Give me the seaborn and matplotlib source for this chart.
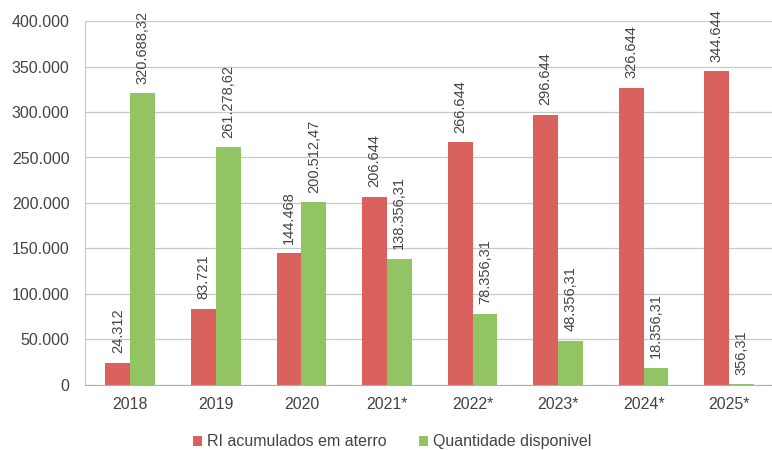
import pandas as pd
import matplotlib
matplotlib.use("Agg")
import matplotlib.pyplot as plt
import seaborn as sns
from matplotlib.ticker import FuncFormatter

# dados
anos = ["2018", "2019", "2020", "2021*", "2022*", "2023*", "2024*", "2025*"]
ri_acumulados = [24312, 83721, 144468, 206644, 266644, 296644, 326644, 344644]
qtd_disponivel = [320688.32, 261278.62, 200512.47, 138356.31, 78356.31, 48356.31, 18356.31, 356.31]
series = ["RI acumulados em aterro", "Quantidade disponivel"]
y_ticks = [0, 50000, 100000, 150000, 200000, 250000, 300000, 350000, 400000]

cores = ["#d9625f", "#93c464"]
cor_texto = "#444444"


def fmt_int(v):
    return f"{int(round(v)):,}".replace(",", ".")


def fmt_dec(v):
    s = f"{v:,.2f}"
    return s.replace(",", "X").replace(".", ",").replace("X", ".")


df = pd.DataFrame({
    "ano": anos * 2,
    "valor": ri_acumulados + qtd_disponivel,
    "serie": [series[0]] * len(anos) + [series[1]] * len(anos),
})

sns.set_style("white")
plt.rcParams["font.family"] = ["Liberation Sans", "DejaVu Sans"]

fig = plt.figure(figsize=(7.72, 4.5), dpi=100)
ax = fig.add_axes([0.11, 0.145, 0.89, 0.808])

sns.barplot(data=df, x="ano", y="valor", hue="serie", palette=cores,
            width=0.58, gap=0, saturation=1, linewidth=0, ax=ax, legend=True)

# rótulos de dados
labels = [[fmt_int(v) for v in ri_acumulados], [fmt_dec(v) for v in qtd_disponivel]]
for cont, labs in zip(ax.containers, labels):
    ax.bar_label(cont, labels=labs, rotation=90, padding=7, fontsize=10.5, color=cor_texto)

ax.set_ylim(0, 400000)
ax.set_yticks(y_ticks)
ax.yaxis.set_major_formatter(FuncFormatter(lambda v, p: fmt_int(v)))
ax.set_xlim(-0.53, 7.36)
ax.yaxis.grid(True, color="#c8c8c8", linewidth=0.9)
ax.set_axisbelow(True)

for s in ["top", "right"]:
    ax.spines[s].set_visible(False)
ax.spines["left"].set_color("#c8c8c8")
ax.spines["bottom"].set_color("#b0b0b0")

ax.tick_params(axis="y", labelsize=11.5, colors=cor_texto, length=0, pad=11)
ax.tick_params(axis="x", labelsize=11.5, colors=cor_texto, length=0, pad=9)
ax.set_xticks(range(len(anos)))
ax.set_xticks([i + 0.5 for i in range(-1, len(anos))], minor=True)
ax.tick_params(axis="x", which="minor", length=4, color="#b0b0b0")
ax.set_xlabel("")
ax.set_ylabel("")

ax.legend(loc="center", bbox_to_anchor=(0.447, -0.157), ncol=2, frameon=False,
          fontsize=11.5, handlelength=0.6, handleheight=0.6, handletextpad=0.3,
          columnspacing=2.0, labelcolor=cor_texto)

fig.savefig("out.png", dpi=100)
